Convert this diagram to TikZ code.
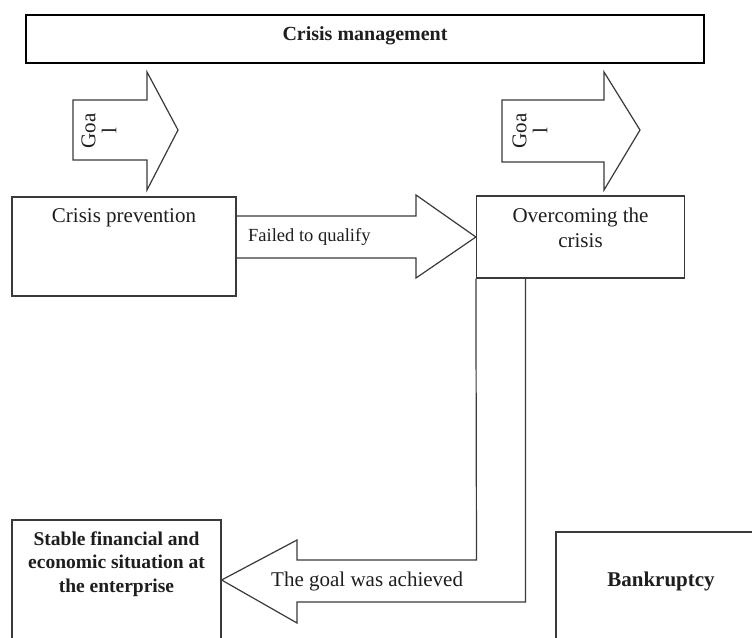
\documentclass[tikz,border=0pt]{standalone}
\usepackage{fontspec}
\setmainfont{Liberation Serif}
\definecolor{linegray}{HTML}{3A3A3A}
\definecolor{textgray}{HTML}{1E1E1E}
\tikzset{
  box/.style={draw=linegray, line width=1.2pt, inner sep=0pt},
  blockarrow/.style={draw=linegray, line width=1.2pt, line join=miter},
  txt/.style={text=textgray, inner sep=0pt, font=\fontsize{21}{24.7}\selectfont},
  boldtxt/.style={text=textgray, inner sep=0pt, align=center, font=\fontsize{19.5}{23.3}\selectfont\bfseries},
  goaltxt/.style={text=textgray, inner sep=0pt, align=center, rotate=90, font=\fontsize{21}{21}\selectfont},
}
\begin{document}
\begin{tikzpicture}[x=1pt,y=-1pt]
  \fill[white] (0,0) rectangle (752,637);
  \useasboundingbox (0,0) rectangle (752,637);
  \clip (0,0) rectangle (752,637);
  % boxes
  \node[box, draw=black, line width=2.7pt, minimum width=678pt, minimum height=48pt] (crisis) at (365,39) {};
  \node[box, minimum width=224pt, minimum height=99pt] (prev) at (124,246.5) {};
  \node[box, minimum width=208pt, minimum height=82pt] (over) at (580.5,237) {};
  \node[box, minimum width=209pt, minimum height=140pt] (stable) at (116.5,590) {};
  \node[box, minimum width=212pt, minimum height=140pt] (bank) at (662,602) {};
  % goal arrows
  \draw[blockarrow] (73,100) -- (147,100) -- (147,72) -- (178,130) -- (147,190) -- (147,160) -- (73,160) -- cycle;
  \draw[blockarrow] (502,100) -- (604,100) -- (604,72) -- (640,130) -- (604,190) -- (604,162) -- (502,162) -- cycle;
  % failed to qualify
  \draw[blockarrow] (prev.east |- 0,216) -- (416,216) -- (416,195) -- (over.west) -- (416,278) -- (416,258) -- (prev.east |- 0,258);
  % goal was achieved
  \draw[blockarrow] (over.south west) -- (476.5,560) -- (297,560) -- (297,540) -- (stable.east |- 0,580)
    -- (297,623) -- (297,602) -- (525.5,602) -- (over.south -| 525.5,0);
  % texts
  \node[boldtxt, anchor=base, font=\fontsize{20}{24}\selectfont\bfseries] (crisistext) at (365,40) {Crisis management};
  \node[goaltxt] (goalA) at (99,131) {Goa\\l};
  \node[goaltxt] (goalB) at (530,131) {Goa\\l};
  \node[txt, anchor=base] (prevtext) at (124,222) {Crisis prevention};
  \node[txt, align=center] (overtext) at (580.5,228) {Overcoming the\\crisis};
  \node[txt, anchor=base west, font=\fontsize{18.5}{22}\selectfont] (failtext) at (248,241.5) {Failed to qualify};
  \node[txt, anchor=base west] (achtext) at (271,586) {The goal was achieved};
  \node[boldtxt] (stabletext) at (116.5,564) {Stable financial and\\economic situation at\\the enterprise};
  \node[boldtxt, anchor=base, font=\fontsize{21}{25}\selectfont\bfseries] (banktext) at (661,586) {Bankruptcy};
\end{tikzpicture}
\end{document}
